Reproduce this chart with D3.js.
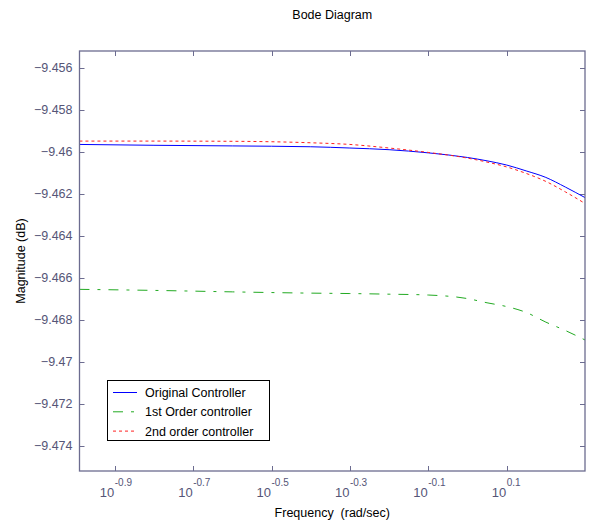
<!DOCTYPE html>
<html>
<head>
<meta charset="utf-8">
<style>
    body { margin: 0; background: white; }
    svg { background-color: white; }
    text { font-family: "Liberation Sans", Arial, sans-serif; }
</style>
</head>
<body>
<script src="https://d3js.org/d3.v7.min.js"></script>
<script>

const width = 589;
const height = 522;
const margin = {top: 51, right: 4, bottom: 51, left: 79.5};

// frequency (rad/sec)
const freq = [0.1023, 0.1585, 0.2512, 0.3981, 0.5012, 0.6310, 0.7943, 1.0, 1.122, 1.2589, 1.4125, 1.5849, 1.7783, 1.9953];

// magnitude (dB)
const original = [-9.45965, -9.45969, -9.45972, -9.45976, -9.45982, -9.45990, -9.46005, -9.46027, -9.46043, -9.46063, -9.46091, -9.46122, -9.46168, -9.46218];
const firstOrder = [-9.46655, -9.46660, -9.46667, -9.46673, -9.46675, -9.46678, -9.46682, -9.46699, -9.46719, -9.46737, -9.46765, -9.46811, -9.46851, -9.46896];
const secondOrder = [-9.45949, -9.45949, -9.45950, -9.45957, -9.45965, -9.45982, -9.46003, -9.46030, -9.46049, -9.46072, -9.46103, -9.46141, -9.46191, -9.46246];

const xTickExp = ['-0.9', '-0.7', '-0.5', '-0.3', '-0.1', '0.1'];
const yTicks = [-9.456, -9.458, -9.46, -9.462, -9.464, -9.466, -9.468, -9.47, -9.472, -9.474];

const series = [
    {name: 'Original Controller', values: original, color: '#0000ff', dash: null},
    {name: '1st Order controller', values: firstOrder, color: '#22aa22', dash: '10,8,3,8'},
    {name: '2nd order controller', values: secondOrder, color: '#ff2020', dash: '3,3'}
];

const axisColor = '#6c6c90';
const labelColor = '#555577';

const svg = d3.select('body').append('svg')
    .attr('width', width)
    .attr('height', height);

const x = d3.scaleLog()
    .domain([Math.pow(10, -0.99), Math.pow(10, 0.3)])
    .range([margin.left, width - margin.right]);

const y = d3.scaleLinear()
    .domain([-9.4752, -9.4552])
    .range([height - margin.bottom, margin.top]);

const plotL = margin.left, plotR = width - margin.right;
const plotT = margin.top, plotB = height - margin.bottom;

// ticks (inward, on all four sides)
const tickLen = 5;
const grid = svg.append('g').attr('stroke', axisColor).attr('stroke-width', 1);
yTicks.forEach(v => {
    const yy = Math.round(y(v)) + 0.5;
    grid.append('line').attr('x1', plotL).attr('x2', plotL + tickLen).attr('y1', yy).attr('y2', yy);
    grid.append('line').attr('x1', plotR - tickLen).attr('x2', plotR).attr('y1', yy).attr('y2', yy);
});
xTickExp.forEach(e => {
    const xx = Math.round(x(Math.pow(10, +e))) + 0.5;
    grid.append('line').attr('x1', xx).attr('x2', xx).attr('y1', plotT).attr('y2', plotT + tickLen);
    grid.append('line').attr('x1', xx).attr('x2', xx).attr('y1', plotB - tickLen).attr('y2', plotB);
});

// lines
const line = d3.line()
    .x((d, i) => x(freq[i]))
    .y(d => y(d))
    .curve(d3.curveMonotoneX);

series.forEach(s => {
    svg.append('path')
        .datum(s.values)
        .attr('fill', 'none')
        .attr('stroke', s.color)
        .attr('stroke-width', 1)
        .attr('stroke-dasharray', s.dash)
        .attr('d', line);
});

// box
svg.append('rect')
    .attr('x', plotL)
    .attr('y', plotT)
    .attr('width', plotR - plotL)
    .attr('height', plotB - plotT)
    .attr('fill', 'none')
    .attr('stroke', axisColor)
    .attr('stroke-width', 1.3);

// y tick labels
svg.append('g').selectAll('text')
    .data(yTicks)
    .join('text')
        .attr('x', plotL - 7)
        .attr('y', d => y(d) + 4.5)
        .attr('text-anchor', 'end')
        .attr('font-size', 12.5)
        .attr('fill', labelColor)
        .text(d => d3.format('')(d));

// x tick labels: 10^e
xTickExp.forEach(e => {
    const xx = x(Math.pow(10, +e));
    svg.append('text')
        .attr('x', xx - 0.5)
        .attr('y', 497)
        .attr('text-anchor', 'end')
        .attr('font-size', 13)
        .attr('fill', labelColor)
        .text('10');
    svg.append('text')
        .attr('x', xx)
        .attr('y', 486)
        .attr('font-size', 10)
        .attr('fill', labelColor)
        .text(e);
});

// title and axis labels
svg.append('text')
    .attr('x', (plotL + plotR) / 2)
    .attr('y', 19)
    .attr('text-anchor', 'middle')
    .attr('font-size', 12.5)
    .attr('fill', '#000')
    .text('Bode Diagram');

svg.append('text')
    .attr('x', (plotL + plotR) / 2)
    .attr('y', 517)
    .attr('text-anchor', 'middle')
    .attr('font-size', 12.5)
    .attr('fill', '#000')
    .attr('xml:space', 'preserve')
    .style('white-space', 'pre')
    .text('Frequency  (rad/sec)');

svg.append('text')
    .attr('transform', `translate(25, ${(plotT + plotB) / 2}) rotate(-90)`)
    .attr('text-anchor', 'middle')
    .attr('font-size', 12.5)
    .attr('fill', '#000')
    .text('Magnitude (dB)');

// legend
const legend = svg.append('g');
legend.append('rect')
    .attr('x', 107.5)
    .attr('y', 380.5)
    .attr('width', 162)
    .attr('height', 60)
    .attr('fill', 'white')
    .attr('stroke', '#000')
    .attr('stroke-width', 1);

series.forEach((s, i) => {
    const ly = 392.5 + i * 19.3;
    legend.append('line')
        .attr('x1', 113)
        .attr('x2', 137)
        .attr('y1', ly)
        .attr('y2', ly)
        .attr('stroke', s.color)
        .attr('stroke-width', 1)
        .attr('stroke-dasharray', s.dash);
    legend.append('text')
        .attr('x', 145)
        .attr('y', ly + 4.5)
        .attr('font-size', 12.5)
        .attr('fill', '#000')
        .text(s.name);
});

</script>
</body>
</html>
